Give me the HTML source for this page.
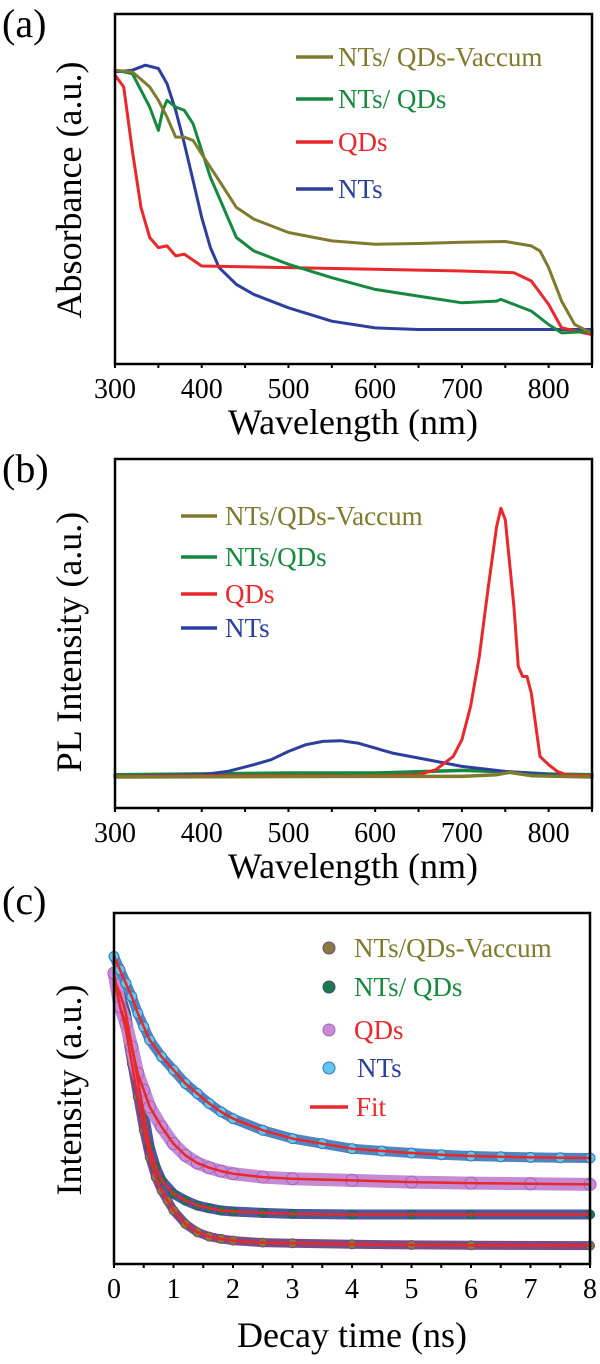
<!DOCTYPE html>
<html><head><meta charset="utf-8"><style>
html,body{margin:0;padding:0;background:#fff;}
svg, svg text{font-family:"Liberation Serif","DejaVu Serif","Times New Roman",serif;}
</style></head><body>
<svg id="fig" width="600" height="1359" viewBox="0 0 600 1359" xmlns="http://www.w3.org/2000/svg" font-family="Liberation Serif, DejaVu Serif, serif">
<text x="2" y="37" font-size="40">(a)</text>
<text x="2" y="482" font-size="40">(b)</text>
<text x="2" y="914" font-size="40">(c)</text>
<text transform="translate(81,190) rotate(-90)" text-anchor="middle" font-size="36">Absorbance (a.u.)</text>
<text x="353" y="434" text-anchor="middle" font-size="36">Wavelength (nm)</text>
<text transform="translate(81,642) rotate(-90)" text-anchor="middle" font-size="36">PL Intensity (a.u.)</text>
<text x="353" y="878" text-anchor="middle" font-size="36">Wavelength (nm)</text>
<text transform="translate(81,1090) rotate(-90)" text-anchor="middle" font-size="36">Intensity (a.u.)</text>
<text x="352" y="1347" text-anchor="middle" font-size="36">Decay time (ns)</text>
<g id="pa"></g><g id="pb"></g><g id="pc"></g>
</svg>
<script>
// Panel (a) absorbance data (arbitrary units)
const aOliveX=[300,320,340,350,360,370,380,390,400,420,440,460,500,550,600,650,700,750,780,790,800,815,830,845,850];
const aOliveY=[878,873,828,788,738,678,678,668,628,548,468,433,393,368,358,360,364,366,353,338,288,188,118,98,93];
const aGreenX=[300,320,340,350,355,360,370,380,390,400,410,420,430,440,460,500,550,600,650,700,740,745,760,780,800,815,850];
const aGreenY=[878,868,768,698,758,788,768,758,718,638,558,498,438,378,338,298,258,223,203,183,188,193,178,158,118,93,98];
const aRedX=[300,310,320,330,340,350,360,370,380,400,500,600,700,760,780,800,815,850];
const aRedY=[863,828,638,468,378,348,353,323,328,293,288,283,278,273,248,178,108,88];
const aBlueX=[300,320,335,350,360,370,380,390,400,410,420,440,460,500,550,600,650,850];
const aBlueY=[873,878,893,883,838,758,658,548,438,348,288,238,208,168,128,108,103,103];
// Panel (b) PL data
const bRedX=[300,400,600,650,670,690,700,710,720,730,740,745,750,760,765,770,775,780,790,800,810,820,850];
const bRedY=[95,97,97,100,115,155,205,305,455,655,845,900,865,605,425,395,395,345,155,130,110,100,97];
const bBlueX=[300,400,430,460,480,500,520,540,560,580,600,620,650,680,700,750,800,850];
const bBlueY=[95,100,110,130,145,170,190,200,202,195,180,165,150,135,125,110,100,97];
const bGreenX=[300,500,600,700,750,800,850];
const bGreenY=[100,105,105,113,109,102,100];
const bOliveX=[300,600,700,740,755,780,850];
const bOliveY=[93,95,95,100,107,97,93];
// Panel (c) decay data
const cNTsT=[0,0.1,0.2,0.3,0.4,0.5,0.6,0.8,1.0,1.2,1.4,1.6,1.8,2.0,2.5,3.0,3.5,4.0,4.5,5.0,5.5,6.0,6.5,7.0,7.5,8.0];
const cNTsY=[920,880,840,800,750,710,670,620,580,540,510,480,455,435,400,375,360,345,338,332,327,323,321,319,318,317];
const cQDsT=[0,0.1,0.2,0.3,0.4,0.5,0.6,0.8,1.0,1.2,1.4,1.6,1.8,2.0,2.5,3,4,5,6,7,8];
const cQDsY=[870,770,720,650,570,520,470,410,360,325,302,288,278,270,260,255,250,245,242,240,238];
const cMixT=[0,0.1,0.2,0.3,0.4,0.5,0.6,0.7,0.8,1.0,1.2,1.4,1.6,1.8,2,2.5,3,4,5,6,8];
const cMixY=[850,810,750,650,550,450,350,290,250,210,190,175,167,160,157,153,150,148,148,148,148];
const cVacT=[0,0.1,0.2,0.3,0.4,0.5,0.6,0.7,0.8,0.9,1.0,1.2,1.4,1.6,1.8,2,2.5,3,4,5,6,8];
const cVacY=[850,770,700,600,500,400,320,260,220,190,160,120,95,82,75,70,64,62,59,57,56,55];
const xTicksA=[300,400,500,600,700,800];
const xTicksC=[0,1,2,3,4,5,6,7,8];

const NS="http://www.w3.org/2000/svg";
const FONT="Liberation Serif, DejaVu Serif, serif";
function mk(tag,attrs,parent){const e=document.createElementNS(NS,tag);for(const k in attrs)e.setAttribute(k,attrs[k]);if(tag==='text')e.setAttribute('font-family',FONT);parent.appendChild(e);return e;}

function axes(g,P,ticks,minorStep,name){
  const f=mk('rect',{x:P.l,y:P.t,width:P.r-P.l,height:P.b-P.t,fill:'none',stroke:'#000','stroke-width':2.5},g);
  
  
  for(let v=P.x0;v<=P.x1+1e-9;v+=minorStep){
    const x=P.sx(v);
    const tk=mk('line',{x1:x,x2:x,y1:P.b,y2:P.b+4,stroke:'#000','stroke-width':2},g);
    
    
  }
  ticks.forEach(v=>{
    const t=mk('text',{x:P.sx(v),y:P.b+34,'font-size':28,'text-anchor':'middle'},g);
    t.textContent=v;
    
    
  });
}
function line(g,P,xs,ys,color,w,name){
  const pts=xs.map((x,i)=>P.sx(x).toFixed(1)+','+P.sy(ys[i]).toFixed(1)).join(' ');
  const p=mk('polyline',{points:pts,fill:'none',stroke:color,'stroke-width':w,'stroke-linejoin':'round','stroke-linecap':'round'},g);
  
  
}
function legLine(g,x1,x2,y,color,label,tx,name){
  const l=mk('line',{x1:x1,x2:x2,y1:y,y2:y,stroke:color,'stroke-width':3.5},g);
  
  
  const t=mk('text',{x:tx,y:y+9,'font-size':27,fill:color},g);
  t.textContent=label;
  
  
}
function panel(l,r,t,b,x0,x1,ymax){
  return {l,r,t,b,x0,x1,sx:v=>l+(v-x0)/(x1-x0)*(r-l),sy:v=>b-v/ymax*(b-t)};
}
const OLIVE='#7f7a2e',GREEN='#17893f',RED='#e8282b',BLUE='#2c3f9c';

// Panel A
const gA=document.getElementById('pa');
const PA=panel(115,592,14,364,300,850,1046);
line(gA,PA,aBlueX,aBlueY,BLUE,3,'series-nts-absorbance');
line(gA,PA,aRedX,aRedY,RED,3,'series-qds-absorbance');
line(gA,PA,aGreenX,aGreenY,GREEN,3,'series-nts-qds-absorbance');
line(gA,PA,aOliveX,aOliveY,OLIVE,3,'series-nts-qds-vaccum-absorbance');
axes(gA,PA,xTicksA,50,'panel-a');
legLine(gA,296,333,57,OLIVE,'NTs/ QDs-Vaccum',338,'legend-entry-a-vaccum');
legLine(gA,296,333,99,GREEN,' NTs/ QDs',338,'legend-entry-a-nts-qds');
legLine(gA,296,333,142,RED,' QDs',338,'legend-entry-a-qds');
legLine(gA,296,333,189,BLUE,'NTs',338,'legend-entry-a-nts');

// Panel B
const gB=document.getElementById('pb');
const PB=panel(115,592,459,808,300,850,1048);
line(gB,PB,bGreenX,bGreenY,GREEN,3.5,'series-nts-qds-pl');
line(gB,PB,bBlueX,bBlueY,BLUE,3,'series-nts-pl');
line(gB,PB,bRedX,bRedY,RED,3,'series-qds-pl');
line(gB,PB,bOliveX,bOliveY,OLIVE,3.5,'series-nts-qds-vaccum-pl');
axes(gB,PB,xTicksA,50,'panel-b');
legLine(gB,181,217,516,OLIVE,'NTs/QDs-Vaccum',225,'legend-entry-b-vaccum');
legLine(gB,181,217,557,GREEN,'NTs/QDs',225,'legend-entry-b-nts-qds');
legLine(gB,181,217,594,RED,'QDs',225,'legend-entry-b-qds');
legLine(gB,181,217,628,BLUE,'NTs',225,'legend-entry-b-nts');

// Panel C
const gC=document.getElementById('pc');
const PC=panel(114,590,913,1264,0,8,1050);
function dots(xs,ys,fill,stroke,r,bandColor,bw,name){
  line(gC,PC,xs,ys,bandColor,bw,name+'-band');
  xs.forEach((x,i)=>{
    const c=mk('circle',{cx:PC.sx(x),cy:PC.sy(ys[i]),r:r,fill:fill,stroke:stroke,'stroke-width':1},gC);
    
    
  });
}
dots(cVacT,cVacY,'#8a7a3e','#6a4a80',4.5,'#7a4c86',9,'series-nts-qds-vaccum-decay');
dots(cMixT,cMixY,'#1d7a4c','#3a4a8a',4.5,'#4b5a98',10,'series-nts-qds-decay');
dots(cQDsT,cQDsY,'#c98ad6','#a064b8',6,'#c48ad4',13,'series-qds-decay');
dots(cNTsT,cNTsY,'#62c8ea','#3a72b4',5,'#4f86c2',10,'series-nts-decay');
line(gC,PC,cVacT,cVacY,RED,2.5,'fit-nts-qds-vaccum');
line(gC,PC,cMixT,cMixY,RED,2.5,'fit-nts-qds');
line(gC,PC,cQDsT,cQDsY,RED,2.5,'fit-qds');
line(gC,PC,cNTsT,cNTsY,RED,2.5,'fit-nts');
axes(gC,PC,xTicksC,0.5,'panel-c');
function legDot(y,fill,stroke,label,color,tx,name){
  const c=mk('circle',{cx:329,cy:y,r:6,fill:fill,stroke:stroke,'stroke-width':1},gC);
  
  
  const t=mk('text',{x:tx,y:y+9,'font-size':27,fill:color},gC);
  t.textContent=label;
  
  
}
legDot(948,'#8a7a3e','#6a4a80','NTs/QDs-Vaccum',OLIVE,354,'legend-entry-c-vaccum');
legDot(987,'#1d7a4c','#3a4a8a','NTs/ QDs',GREEN,354,'legend-entry-c-nts-qds');
legDot(1030,'#c98ad6','#a064b8',' QDs',RED,354,'legend-entry-c-qds');
legDot(1068,'#62c8ea','#3a72b4','NTs',BLUE,357,'legend-entry-c-nts');
legLine(gC,310,348,1107,RED,'Fit',356,'legend-entry-c-fit');
</script>
</body></html>
